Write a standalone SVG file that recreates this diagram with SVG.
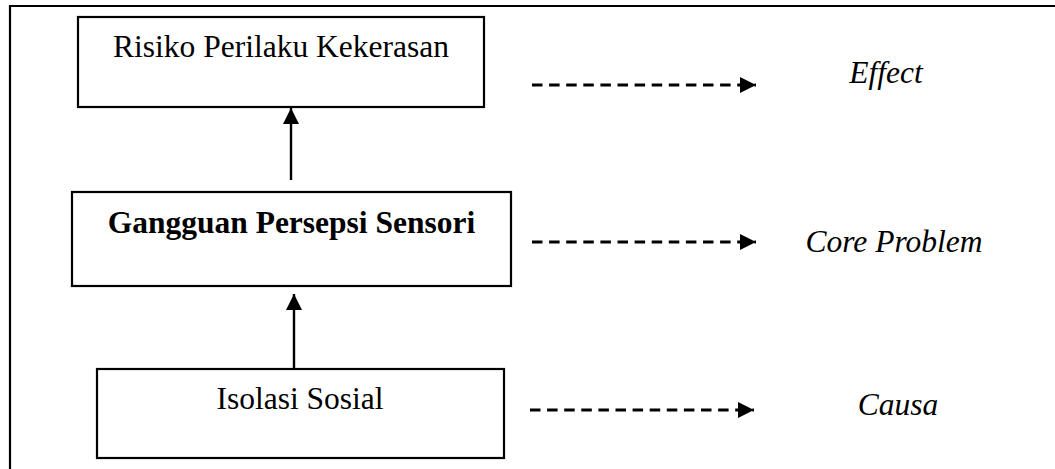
<svg xmlns="http://www.w3.org/2000/svg" width="1055" height="469" viewBox="0 0 1055 469">
<style>
.box{fill:#fff;stroke:#000;stroke-width:2.2}
.t{font-family:"Liberation Serif","Times New Roman",serif;font-size:31.5px;fill:#000}
.b{font-weight:bold}
.i{font-style:italic}
.solid{stroke:#000;stroke-width:2.4;fill:none}
.dash{stroke:#000;stroke-width:3;fill:none;stroke-dasharray:10.5 6.6}
</style>
<defs>
<marker id="ah" markerUnits="userSpaceOnUse" markerWidth="18" markerHeight="18" refX="16" refY="8" orient="auto" overflow="visible">
<path d="M0,0 L16,8 L0,16 Z" fill="#000"/>
</marker>
</defs>
<rect width="1055" height="469" fill="#fff"/>
<path id="frame" d="M10,469 L10,6 L1055,6" fill="none" stroke="#000" stroke-width="2.2"/>
<g id="node-effect-box">
<rect class="box" x="78" y="17" width="406" height="90"/>
<text class="t" x="281" y="57" text-anchor="middle">Risiko Perilaku Kekerasan</text>
</g>
<g id="node-core-box">
<rect class="box" x="72" y="192" width="439" height="94"/>
<text class="t b" x="291.5" y="233" text-anchor="middle">Gangguan Persepsi Sensori</text>
</g>
<g id="node-causa-box">
<rect class="box" x="97" y="369" width="407" height="89"/>
<text class="t" x="300" y="409" text-anchor="middle">Isolasi Sosial</text>
</g>
<g id="label-effect"><text class="t i" x="886" y="83" text-anchor="middle">Effect</text></g>
<g id="label-core"><text class="t i" x="894" y="252" text-anchor="middle">Core Problem</text></g>
<g id="label-causa"><text class="t i" x="898" y="415" text-anchor="middle">Causa</text></g>
<g id="connectors">
<line class="solid" x1="291" y1="180" x2="291" y2="108" marker-end="url(#ah)"/>
<line class="solid" x1="294" y1="368" x2="294" y2="294" marker-end="url(#ah)"/>
<line class="dash" x1="532" y1="85" x2="756" y2="85" marker-end="url(#ah)"/>
<line class="dash" x1="532" y1="242" x2="756" y2="242" marker-end="url(#ah)"/>
<line class="dash" x1="530" y1="410" x2="754" y2="410" marker-end="url(#ah)"/>
</g>
</svg>
